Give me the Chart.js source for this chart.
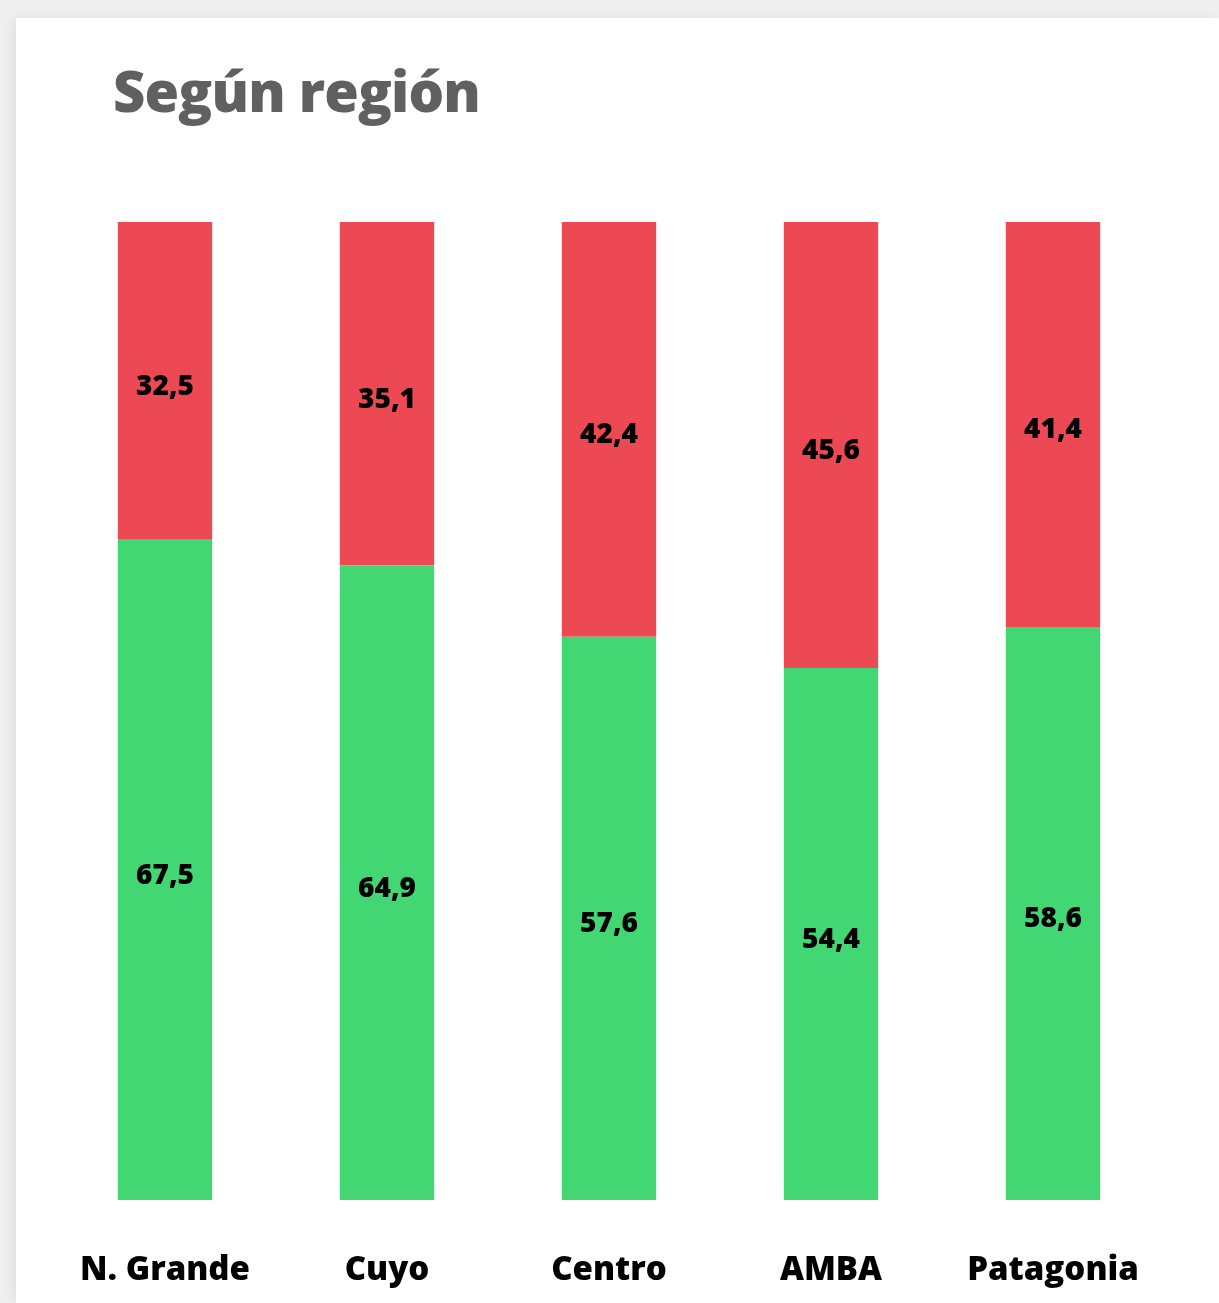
<!DOCTYPE html>
<html lang="es">
<head>
    <meta charset="UTF-8">
    <title>Según región</title>
    <script src="https://cdn.jsdelivr.net/npm/chart.js"></script>
    <style>
        html, body { margin: 0; padding: 0; }
        body { width: 1219px; height: 1303px; background: #efefef; position: relative; overflow: hidden; font-family: "Open Sans", sans-serif; }
        .card { position: absolute; left: 16px; top: 18px; right: 0; bottom: 0; background: #fff; box-shadow: -4px 0 10px rgba(0,0,0,0.06); }
        h1 { position: absolute; left: 113px; top: 52px; margin: 0; font-size: 56px; font-weight: 800; color: #606060; letter-spacing: -0.8px; }
        .chart-box { position: absolute; left: 0; top: 0; width: 1219px; height: 1303px; }
        canvas { display: block; }
    </style>
</head>
<body>
    <div class="card"></div>
    <h1>Según región</h1>
    <div class="chart-box">
        <canvas id="regionChart" width="1219" height="1303"></canvas>
    </div>
    <script>
        const regiones = ['N. Grande', 'Cuyo', 'Centro', 'AMBA', 'Patagonia'];
        const verde = [67.5, 64.9, 57.6, 54.4, 58.6];
        const rojo = [32.5, 35.1, 42.4, 45.6, 41.4];

        // etiquetas dentro de cada barra
        const etiquetas = {
            id: 'etiquetas',
            afterDatasetsDraw(chart) {
                const ctx = chart.ctx;
                ctx.save();
                ctx.font = '800 28px "Open Sans"';
                ctx.fillStyle = '#000';
                ctx.textAlign = 'center';
                ctx.textBaseline = 'middle';
                chart.data.datasets.forEach((ds, i) => {
                    chart.getDatasetMeta(i).data.forEach((bar, j) => {
                        const y = (bar.y + bar.base) / 2 + 6;
                        ctx.fillText(ds.data[j].toFixed(1).replace('.', ','), bar.x, y);
                    });
                });
                ctx.restore();
            }
        };

        new Chart(document.getElementById('regionChart'), {
            type: 'bar',
            data: {
                labels: regiones,
                datasets: [{
                    label: 'Verde',
                    data: verde,
                    backgroundColor: '#43d774'
                }, {
                    label: 'Rojo',
                    data: rojo,
                    backgroundColor: '#ed4954'
                }]
            },
            options: {
                responsive: false,
                animation: false,
                categoryPercentage: 1,
                barPercentage: 0.425,
                layout: { padding: { left: 54, right: 55, top: 222, bottom: 15 } },
                plugins: {
                    legend: { display: false },
                    tooltip: { enabled: false }
                },
                scales: {
                    x: {
                        stacked: true,
                        grid: { display: false, drawTicks: false },
                        border: { display: false },
                        afterFit(scale) { scale.height = 88; },
                        ticks: {
                            color: '#000',
                            padding: 51,
                            font: { family: 'Open Sans', size: 33, weight: 800 }
                        }
                    },
                    y: {
                        stacked: true,
                        display: false,
                        min: 0,
                        max: 100
                    }
                }
            },
            plugins: [etiquetas]
        });
    </script>
</body>
</html>
